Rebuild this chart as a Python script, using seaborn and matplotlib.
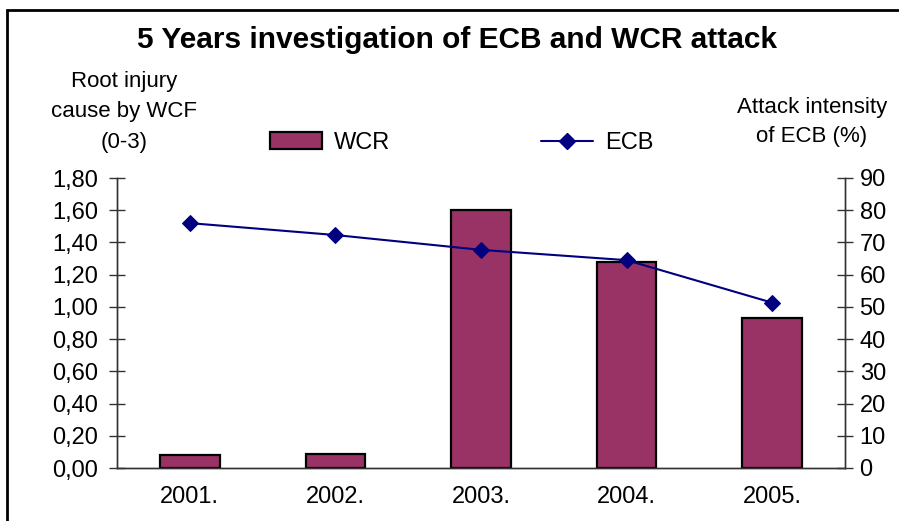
import matplotlib.pyplot as plt
import matplotlib.ticker as mticker
import numpy as np
import pandas as pd
import seaborn as sns
from matplotlib.lines import Line2D
from matplotlib.patches import Patch, Rectangle

# data
years = ["2001.", "2002.", "2003.", "2004.", "2005."]
wcr_values = [0.08, 0.09, 1.60, 1.28, 0.93]
ecb_values = [76.0, 72.3, 67.7, 64.5, 51.3]

df = pd.DataFrame({"year": years, "WCR": wcr_values, "ECB": ecb_values})
df["pos"] = np.arange(len(df))

bar_color = "#993366"
line_color = "#000080"

sns.set_theme(style="white")
plt.rcParams["font.family"] = ["Liberation Sans", "DejaVu Sans"]
plt.rcParams["text.color"] = "black"

fig = plt.figure(figsize=(8.99, 5.21), dpi=100)
ax = fig.add_axes([117 / 899, 1 - 468 / 521, (845 - 117) / 899, (468 - 178) / 521])

# bars for WCR on the left axis
sns.barplot(data=df, x="year", y="WCR", color=bar_color, saturation=1, width=0.41,
            edgecolor="black", linewidth=1.6, ax=ax)

# line for ECB on the right axis
ax2 = ax.twinx()
sns.lineplot(data=df, x="pos", y="ECB", color=line_color, marker="D", markersize=8,
             markeredgecolor=line_color, linewidth=1.5, ax=ax2)

ax.set_xlim(-0.5, len(years) - 0.5)
ax.set_ylim(0, 1.8)
ax2.set_ylim(0, 90)

# tick layout like the excel chart
ax.yaxis.set_major_locator(mticker.MultipleLocator(0.2))
ax.yaxis.set_major_formatter(mticker.FuncFormatter(lambda v, p: f"{v:.2f}".replace(".", ",")))
ax2.yaxis.set_major_locator(mticker.MultipleLocator(10))

ax.set_xticks(np.arange(len(years) + 1) - 0.5)
ax.set_xticklabels([])
ax.set_xticks(np.arange(len(years)), minor=True)
ax.set_xticklabels(years, minor=True)
ax.tick_params(axis="x", which="major", direction="inout", length=11, width=1, color="#333333")
ax.tick_params(axis="x", which="minor", length=0, pad=13, labelsize=17, labelcolor="black")
ax.tick_params(axis="y", direction="inout", length=11, width=1, color="#333333",
               pad=8, labelsize=17, labelcolor="black", left=True)
ax2.tick_params(axis="y", direction="inout", length=11, width=1, color="#333333",
                pad=5, labelsize=17, labelcolor="black", right=True)

ax.set_xlabel("")
ax.set_ylabel("")
ax2.set_xlabel("")
ax2.set_ylabel("")

for a in (ax, ax2):
    a.spines["top"].set_visible(False)
    for s in ("left", "right", "bottom"):
        a.spines[s].set_color("#333333")
        a.spines[s].set_linewidth(1)
ax.grid(False)
ax2.grid(False)

# titles and axis captions
fig.text(457 / 899, 1 - 40 / 521, "5 Years investigation of ECB and WCR attack",
         ha="center", va="center", fontsize=21.5, fontweight="bold", color="black")
fig.text(124 / 899, 1 - 112 / 521, "Root injury\ncause by WCF\n(0-3)",
         ha="center", va="center", multialignment="center", fontsize=16, linespacing=1.6,
         color="black")
fig.text(812 / 899, 1 - 122 / 521, "Attack intensity\nof ECB (%)",
         ha="center", va="center", multialignment="center", fontsize=16, linespacing=1.55,
         color="black")

# legend
handles = [
    Patch(facecolor=bar_color, edgecolor="black", linewidth=1.6),
    Line2D([], [], color=line_color, marker="D", markersize=8, linewidth=1.5),
]
fig.legend(handles, ["WCR", "ECB"], loc="center", bbox_to_anchor=(462 / 899, 1 - 143 / 521),
           ncol=2, frameon=False, fontsize=17, handlelength=2.2, handletextpad=0.5,
           columnspacing=6.4, labelcolor="black")

# outer frame of the chart area
fig.patches.append(Rectangle((7 / 899, -0.05), 1.1, 1 - 10 / 521 + 0.05, transform=fig.transFigure,
                             fill=False, edgecolor="black", linewidth=2))

fig.savefig("out.png", dpi=100)
